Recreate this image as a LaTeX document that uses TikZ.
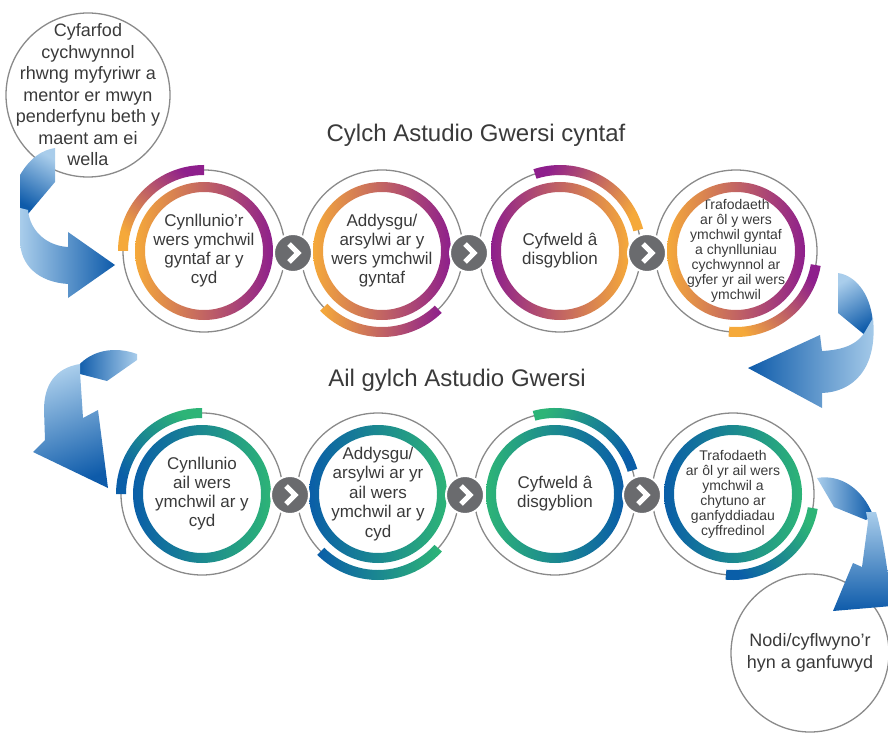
\documentclass[tikz,border=0pt]{standalone}
\usepackage{fontspec}
\setmainfont{Liberation Sans}

\definecolor{lorange}{HTML}{F5A93A}
\definecolor{lpurple}{HTML}{8E1F8C}
\definecolor{lblue}{HTML}{0A5EA8}
\definecolor{lgreen}{HTML}{2DB477}
\definecolor{skyblue}{HTML}{A9CDEB}
\definecolor{deepblue}{HTML}{0E5BAA}
\definecolor{rimgray}{HTML}{8A8A8A}
\definecolor{chevgray}{HTML}{6A6B6E}
\definecolor{txtgray}{HTML}{3A3A3A}

% thick inner ring and partial outer band round a stage node
\newcommand{\innerband}[2]{%
  \shade[even odd rule, #2] (#1.center) circle[radius=69] (#1.center) circle[radius=59];}
\newcommand{\outerband}[4]{%
  \shade[#4] ([shift={(#2:76)}]#1.center) arc[start angle=#2, end angle=#3, radius=76]
    -- ([shift={(#3:86)}]#1.center) arc[start angle=#3, end angle=#2, radius=86] -- cycle;}

\tikzset{
  stage/.style={circle, draw=rimgray, line width=1.3pt, minimum size=162pt, inner sep=0pt,
    align=center, text=txtgray, font=\fontsize{17}{19}\selectfont},
  smallstage/.style={stage, font=\fontsize{14}{15}\selectfont},
  bubble/.style={circle, draw=rimgray, line width=1.3pt, minimum size=164pt, inner sep=-30pt,
    align=center, text=txtgray, font=\fontsize{18}{21.5}\selectfont},
  heading/.style={text=txtgray, font=\fontsize{24}{28}\selectfont},
  chev/.style={circle, fill=chevgray, draw=white, line width=2pt, minimum size=38pt, inner sep=0pt,
    path picture={\draw[white, line width=5pt, shift={(path picture bounding box.center)}]
      (-4,9) -- (5,0) -- (-4,-9);}},
}

\begin{document}
\begin{tikzpicture}[x=1pt, y=1pt]
  \useasboundingbox (0,0) rectangle (888,-735);
  \clip (0,0) rectangle (888,-735);

  % start and end
  \node[bubble] (start) at (88,-95) {Cyfarfod\\ cychwynnol\\ rhwng myfyriwr a\\ mentor er mwyn\\ penderfynu beth y\\ maent am ei\\ wella};
  \node[bubble, inner sep=0pt, minimum size=158pt] (finish) at (810,-653) {Nodi/cyflwyno’r\\ hyn a ganfuwyd};

  % headings
  \node[heading] (head1) at (476,-135) {Cylch Astudio Gwersi cyntaf};
  \node[heading] (head2) at (457,-380) {Ail gylch Astudio Gwersi};

  % first cycle
  \node[stage] (p11) at (204,-251) {Cynllunio’r\\ wers ymchwil\\ gyntaf ar y\\ cyd};
  \node[stage] (p12) at (382,-251) {Addysgu/\\ arsylwi ar y\\ wers ymchwil\\ gyntaf};
  \node[stage] (p13) at (560,-251) {Cyfweld â\\ disgyblion};
  \node[smallstage] (p14) at (736,-251) {Trafodaeth\\ ar ôl y wers\\ ymchwil gyntaf\\ a chynlluniau\\ cychwynnol ar\\ gyfer yr ail wers\\ ymchwil};

  \innerband{p11}{left color=lorange, right color=lpurple}
  \innerband{p12}{left color=lorange, right color=lpurple}
  \innerband{p13}{left color=lpurple, right color=lorange}
  \innerband{p14}{left color=lorange, right color=lpurple}

  \outerband{p11}{90}{180}{top color=lorange, bottom color=lpurple, shading angle=135}
  \outerband{p12}{224}{314}{top color=lpurple, bottom color=lorange, shading angle=269}
  \outerband{p13}{15}{108}{top color=lpurple, bottom color=lorange, shading angle=61}
  \outerband{p14}{265}{350}{top color=lpurple, bottom color=lorange, shading angle=307}

  \node[chev] (s11) at (293,-253) {};
  \node[chev] (s12) at (469,-253) {};
  \node[chev] (s13) at (647,-253) {};

  % second cycle
  \node[stage] (p21) at (202,-494) {Cynllunio\\ ail wers\\ ymchwil ar y\\ cyd};
  \node[stage, font=\fontsize{17}{19.5}\selectfont] (p22) at (378,-494) {Addysgu/\\ arsylwi ar yr\\ ail wers\\ ymchwil ar y\\ cyd};
  \node[stage] (p23) at (555,-494) {Cyfweld â\\ disgyblion};
  \node[smallstage] (p24) at (733,-494) {Trafodaeth\\ ar ôl yr ail wers\\ ymchwil a\\ chytuno ar\\ ganfyddiadau\\ cyffredinol};

  \innerband{p21}{left color=lblue, right color=lgreen}
  \innerband{p22}{left color=lblue, right color=lgreen}
  \innerband{p23}{left color=lgreen, right color=lblue}
  \innerband{p24}{left color=lblue, right color=lgreen}

  \outerband{p21}{90}{180}{top color=lblue, bottom color=lgreen, shading angle=135}
  \outerband{p22}{225}{318}{top color=lgreen, bottom color=lblue, shading angle=271}
  \outerband{p23}{17}{105}{top color=lgreen, bottom color=lblue, shading angle=61}
  \outerband{p24}{265}{350}{top color=lgreen, bottom color=lblue, shading angle=307}

  \node[chev] (s21) at (290,-495) {};
  \node[chev] (s22) at (465,-495) {};
  \node[chev] (s23) at (642,-495) {};

  % curved blue arrows
  \shade[top color=skyblue, bottom color=deepblue, shading angle=-30]
    (20,-175) .. controls (30,-158) and (42,-150) .. (55,-148) -- (55,-182) -- (28,-214) -- (20,-214) -- cycle;
  \shade[left color=skyblue, right color=deepblue]
    (20,-208) -- (28,-210) .. controls (30,-232) and (48,-246) .. (68,-247) -- (68,-232) -- (115,-265)
    -- (68,-298) -- (68,-284) .. controls (38,-282) and (20,-265) .. (20,-240) -- cycle;

  \shade[top color=skyblue, bottom color=deepblue, shading angle=30]
    (838,-273) .. controls (858,-276) and (872,-298) .. (873,-325) -- (866,-336) -- (838,-313) -- cycle;
  \shade[left color=deepblue, right color=skyblue]
    (873,-318) .. controls (878,-370) and (852,-392) .. (822,-393) -- (822,-408) -- (748,-368)
    -- (820,-335) -- (822,-351) .. controls (842,-350) and (858,-345) .. (866,-330) -- cycle;

  \shade[left color=deepblue, right color=skyblue]
    (78,-366) .. controls (92,-350) and (115,-346) .. (137,-354) -- (137,-360) -- (107,-381) -- (80,-374) -- cycle;
  \shade[top color=skyblue, bottom color=deepblue, shading angle=20]
    (80,-364) .. controls (55,-368) and (44,-385) .. (44,-410) -- (45,-440) -- (33,-452) -- (108,-488)
    -- (98,-410) -- (83,-418) -- (80,-372) -- cycle;

  \shade[left color=skyblue, right color=deepblue]
    (817,-478) .. controls (840,-474) and (862,-488) .. (873,-515) -- (866,-520) -- (834,-507) -- cycle;
  \shade[top color=skyblue, bottom color=deepblue]
    (866,-512) -- (876,-512) .. controls (884,-540) and (888,-575) .. (892,-606) -- (833,-611)
    -- (853,-563) -- (862,-567) -- (868,-522) -- cycle;
\end{tikzpicture}
\end{document}
